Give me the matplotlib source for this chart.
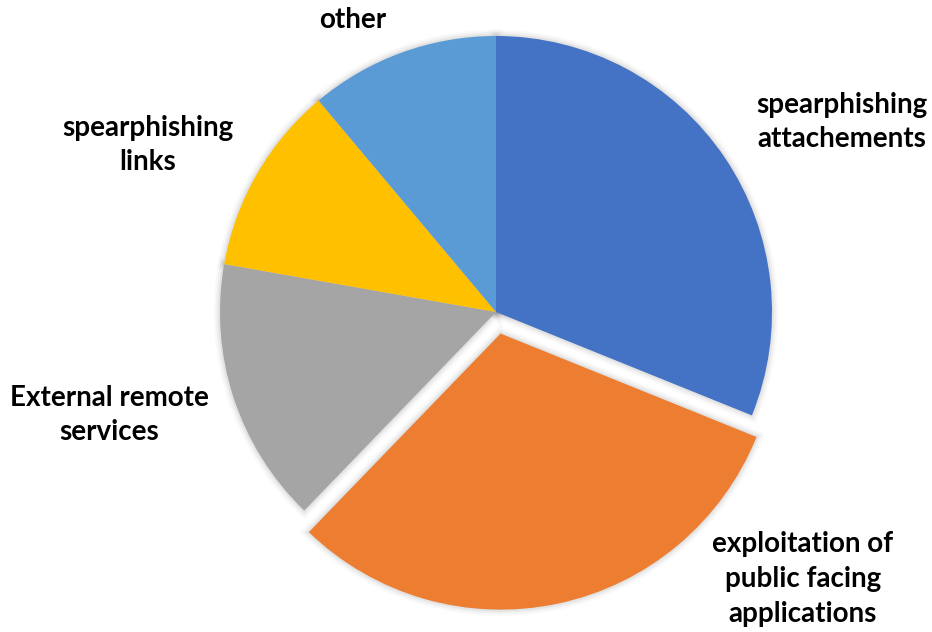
import matplotlib.pyplot as plt
import matplotlib.patheffects as pe
from matplotlib.patches import Wedge

labels = ['spearphishing\nattachements', 'exploitation of\npublic facing\napplications',
          'External remote\nservices', 'spearphishing\nlinks', 'other']
counts = [28, 28, 14, 10, 10]
colors = ['#4472C4', '#ED7D31', '#A5A5A5', '#FFC000', '#5B9BD5']
explode = [0, 0.08, 0, 0, 0]

# label anchor points (pixels, y measured from the top)
label_pos = [(842, 122), (803, 579), (109, 415), (148, 145), (353, 20)]

W, H = 932, 632
R = 276
fig = plt.figure(figsize=(W / 100, H / 100), dpi=100)
ax = fig.add_axes([0, 0, 1, 1])

center = (496, H - 312)
# pie() offsets exploded slices in data units, so scale by the radius
wedges, _ = ax.pie(counts, colors=colors, explode=[e * R for e in explode],
                   startangle=90, counterclock=False, center=center, radius=R,
                   wedgeprops=dict(linewidth=0, zorder=2))

# soft shadow under every slice
for w in wedges:
    sh = Wedge(w.center, w.r, w.theta1, w.theta2, facecolor='#d8d8d8',
               edgecolor='none', zorder=1)
    sh.set_path_effects([
        pe.Stroke(linewidth=9, foreground='#000000', alpha=0.025),
        pe.Stroke(linewidth=6, foreground='#000000', alpha=0.035),
        pe.Stroke(linewidth=3, foreground='#000000', alpha=0.05),
        pe.Normal(),
    ])
    ax.add_patch(sh)

for text, (x, y) in zip(labels, label_pos):
    ax.text(x, H - y, text, ha='center', va='center', fontsize=20,
            fontweight='bold', family='Lato', color='black', linespacing=1.42)

ax.set_xlim(0, W)
ax.set_ylim(0, H)
ax.set_aspect('equal')
ax.axis('off')

fig.savefig('out.png', dpi=100, facecolor='white')
